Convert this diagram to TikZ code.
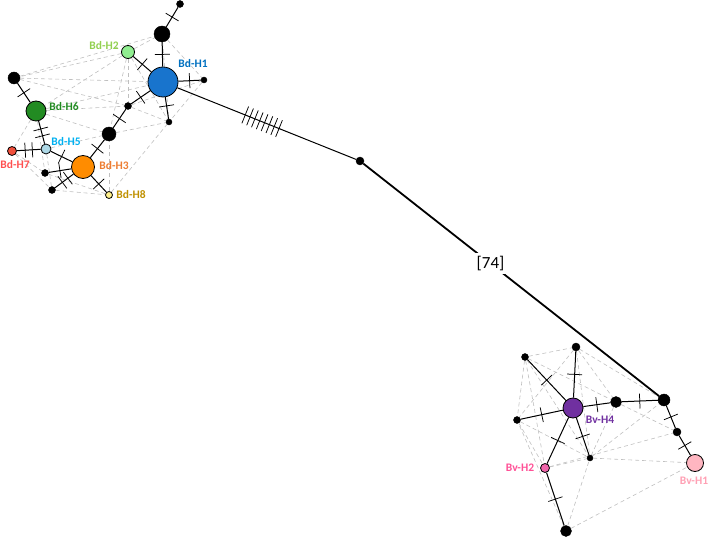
\documentclass[tikz,border=0pt]{standalone}
\usepackage{fontspec}
\newfontfamily\labfont{Carlito}
\usepackage{tikz}
\usetikzlibrary{backgrounds}

\definecolor{cDone}{RGB}{24,116,205}
\definecolor{cDtwo}{RGB}{144,238,144}
\definecolor{cDthree}{RGB}{255,140,0}
\definecolor{cDfive}{RGB}{173,216,230}
\definecolor{cDsix}{RGB}{34,139,34}
\definecolor{cDseven}{RGB}{240,80,60}
\definecolor{cDeight}{RGB}{255,240,140}
\definecolor{cVone}{RGB}{255,182,193}
\definecolor{cVtwo}{RGB}{240,100,170}
\definecolor{cVfour}{RGB}{112,48,160}
\definecolor{tDone}{RGB}{0,112,192}
\definecolor{tDtwo}{RGB}{146,208,80}
\definecolor{tDthree}{RGB}{237,125,49}
\definecolor{tDfive}{RGB}{0,176,240}
\definecolor{tDsix}{RGB}{34,139,34}
\definecolor{tDseven}{RGB}{255,80,80}
\definecolor{tDeight}{RGB}{191,144,0}
\definecolor{tVone}{RGB}{255,160,180}
\definecolor{tVtwo}{RGB}{255,80,150}
\definecolor{tVfour}{RGB}{112,48,160}

\begin{document}
\begin{tikzpicture}[x=1pt,y=-1pt,
  hap/.style={circle,draw=black,line width=0.8pt,inner sep=0pt},
  mv/.style={circle,draw=black,fill=black,inner sep=0pt},
  tk/.style={draw,sloped,inner sep=0pt,minimum width=0pt,minimum height=15pt,line width=0.75pt},
  dsh/.style={draw=gray!50,dash pattern=on 4pt off 3pt,line width=0.6pt},
  link/.style={line width=1pt},
  lab/.style={font=\labfont\bfseries\fontsize{11.5}{13}\selectfont}]
\useasboundingbox (0,0) rectangle (709,537);

% Bd haplotypes
\node[hap,fill=cDone,minimum size=30pt] (D1) at (163,82) {};
\node[hap,fill=cDtwo,minimum size=13pt] (D2) at (128,52) {};
\node[hap,fill=cDthree,minimum size=23pt] (D3) at (83,167) {};
\node[hap,fill=cDfive,minimum size=10pt] (D5) at (46,149) {};
\node[hap,fill=cDsix,minimum size=20pt] (D6) at (36,111) {};
\node[hap,fill=cDseven,minimum size=9pt] (D7) at (12,151) {};
\node[hap,fill=cDeight,minimum size=7pt] (D8) at (109,195) {};

% Bv haplotypes
\node[hap,fill=cVone,minimum size=17pt] (V1) at (695,463) {};
\node[hap,fill=cVtwo,minimum size=9pt] (V2) at (545,468) {};
\node[hap,fill=cVfour,minimum size=20pt] (V4) at (573,408) {};

% median vectors
\node[mv,minimum size=7pt] (a1) at (180,4) {};
\node[mv,minimum size=16pt] (a2) at (162,34) {};
\node[mv,minimum size=6pt] (a3) at (204,80) {};
\node[mv,minimum size=6pt] (a4) at (169,122) {};
\node[mv,minimum size=7pt] (a5) at (128,106) {};
\node[mv,minimum size=14pt] (a6) at (109,134) {};
\node[mv,minimum size=7pt] (a7) at (45,173) {};
\node[mv,minimum size=7pt] (a8) at (52,190) {};
\node[mv,minimum size=12pt] (a9) at (14,78) {};
\node[mv,minimum size=8pt] (c) at (360,161) {};
\node[mv,minimum size=8pt] (b1) at (576,347) {};
\node[mv,minimum size=7pt] (b2) at (525,357) {};
\node[mv,minimum size=7pt] (b3) at (517,420) {};
\node[mv,minimum size=6pt] (b4) at (590,458) {};
\node[mv,minimum size=11pt] (b5) at (616,402) {};
\node[mv,minimum size=12pt] (b6) at (664,400) {};
\node[mv,minimum size=8pt] (b7) at (677,432) {};
\node[mv,minimum size=11pt] (b8) at (566,531) {};

% labels
\node[lab,text=tDone] (lD1) at (193,64) {Bd-H1};
\node[lab,text=tDtwo] (lD2) at (104,46) {Bd-H2};
\node[lab,text=tDsix] (lD6) at (64,107) {Bd-H6};
\node[lab,text=tDfive] (lD5) at (66,142) {Bd-H5};
\node[lab,text=tDseven] (lD7) at (15,165) {Bd-H7};
\node[lab,text=tDthree] (lD3) at (114,166) {Bd-H3};
\node[lab,text=tDeight] (lD8) at (131,195) {Bd-H8};
\node[lab,text=tVfour] (lV4) at (600,420) {Bv-H4};
\node[lab,text=tVtwo] (lV2) at (520,468) {Bv-H2};
\node[lab,text=tVone] (lV1) at (694,481) {Bv-H1};

% alternative links
\begin{pgfonlayer}{background}
\foreach \p/\q in {D2/a2,D2/a9,D2/a5,D2/D6,D2/a6,D2/a4,a9/D1,a9/a5,a9/a2,D6/D1,D6/a5,
  D6/a6,D6/D7,D6/a7,D5/a6,D5/a8,D7/a7,D7/a8,a8/D8,a7/D8,D8/a6,D8/a4,a6/a4,a5/a4,
  a2/a3,a2/a4,a3/a4,a5/a3,D5/D3}
  \draw[dsh] (\p) -- (\q);
\foreach \p/\q in {b2/b1,b2/b3,b2/V2,b1/b5,b1/b6,b1/b3,b1/b4,b3/V2,b3/b4,b2/b4,V2/b4,
  V2/b7,b8/V1,b8/b4,b8/b3,b5/b7,b5/b4,b4/b6,b2/b5,b4/V1,b3/V4}
  \draw[dsh] (\p) -- (\q);
\end{pgfonlayer}

% Bd network
\draw[link] (a1) -- node[tk]{} (a2);
\draw[link] (a2) -- node[tk]{} (D1);
\draw[link] (D2) -- node[tk]{} (D1);
\draw[link] (D1) -- node[tk]{} (a3);
\draw[link] (D1) -- node[tk,pos=0.4]{} (a4);
\draw[link] (D1) -- node[tk]{} (a5);
\draw[link] (a5) -- node[tk]{} (a6);
\draw[link] (a6) -- node[tk]{} (D3);
\draw[link] (D3) -- node[tk]{} (D5);
\draw[link] (D5) -- node[tk,pos=0.35]{} node[tk,pos=0.65]{} (D6);
\draw[link] (D6) -- node[tk]{} (a9);
\draw[link] (D5) -- node[tk,pos=0.35]{} node[tk,pos=0.65]{} (D7);
\draw[link] (D3) -- node[tk]{} (a7);
\draw[link] (D3) -- node[tk,pos=0.3]{} node[tk,pos=0.6]{} (a8);
\draw[link] (D3) -- node[tk]{} (D8);

% long branch
\draw[link] (D1) -- (c) foreach \p in {0.38,0.407,0.434,0.461,0.488,0.515,0.542,0.569} {node[tk,pos=\p,minimum height=18pt]{}};
\draw[line width=1.8pt] (c) -- node[pos=0.43,fill=white,font=\labfont\fontsize{17}{20}\selectfont]{[74]} (b6);

% Bv network
\draw[link] (V4) -- node[tk]{} (b1);
\draw[link] (V4) -- node[tk]{} (b2);
\draw[link] (V4) -- node[tk]{} (b3);
\draw[link] (V4) -- node[tk]{} (V2);
\draw[link] (V4) -- node[tk]{} (b4);
\draw[link] (V4) -- node[tk]{} (b5);
\draw[link] (b5) -- node[tk]{} (b6);
\draw[link] (b6) -- node[tk]{} (b7);
\draw[link] (b7) -- node[tk]{} (V1);
\draw[link] (V2) -- node[tk]{} (b8);
\end{tikzpicture}
\end{document}
